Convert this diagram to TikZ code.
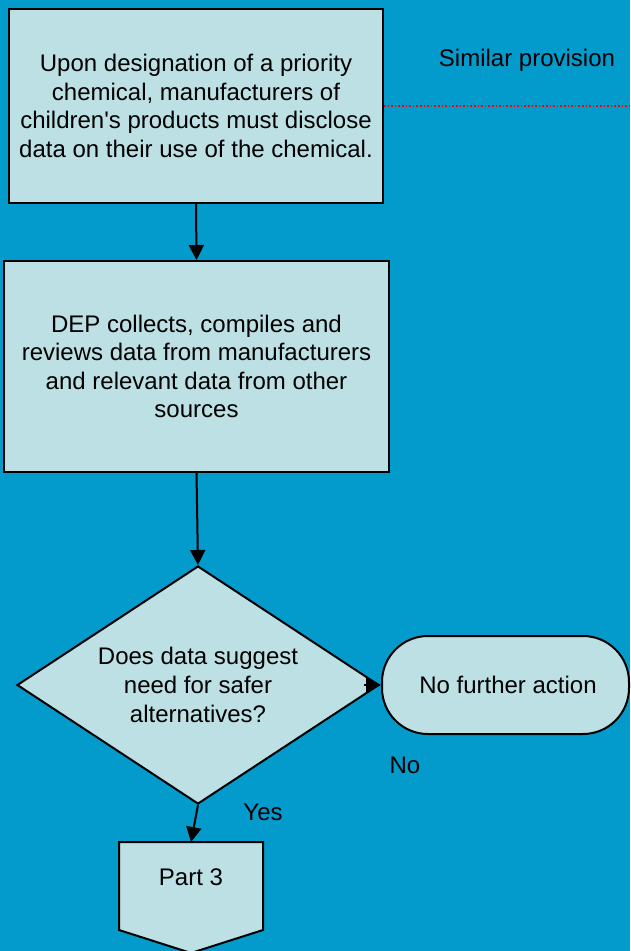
\documentclass[tikz,border=0pt]{standalone}
\usepackage{fontspec}
\setmainfont{Liberation Sans}[Ligatures=TeXOff]
\usetikzlibrary{shapes.geometric,arrows.meta}
\definecolor{bgblue}{RGB}{3,154,204}
\definecolor{boxfill}{RGB}{188,224,228}
\tikzset{
  procbox/.style={draw=black, line width=2pt, fill=boxfill, align=center, inner sep=0pt},
  flowarrow/.style={line width=2pt, -{Triangle[length=15pt,width=15pt]}},
  lbl/.style={inner sep=0pt, text=black},
  dotline/.style={red, dotted, line width=1.6pt}
}
\begin{document}
\begin{tikzpicture}[x=1pt,y=-1pt, font=\fontsize{24}{28.6}\selectfont]
\useasboundingbox (0,0) rectangle (630,951);
\fill[bgblue] (0,0) rectangle (630,951);
% box 1
\node[procbox, minimum width=374pt, minimum height=194pt] (b1) at (196,106)
  {Upon designation of a priority\\chemical, manufacturers of\\children's products must disclose\\data on their use of the chemical.};
% box 2
\node[procbox, minimum width=385pt, minimum height=211pt] (b2) at (196.5,366.5)
  {DEP collects, compiles and\\reviews data from manufacturers\\and relevant data from other\\sources};
% diamond
\node[procbox, diamond, aspect=1.52, minimum width=362pt, minimum height=238pt] (dia) at (198,685)
  {Does data suggest\\need for safer\\alternatives?};
% terminator
\node[procbox, rounded corners=46pt, minimum width=247pt, minimum height=98pt] (term) at (505.5,685)
  {\hspace{5pt}No further action};
% Part 3 off-page connector
\path[procbox] (119,842) -- (263,842) -- (263,930) -- (191,953) -- (119,930) -- cycle;
\coordinate (p3top) at (191,842);
\node[lbl] (p3) at (191,877) {Part 3};
% labels
\node[lbl] (sim) at (527,60) {Similar provision};
\node[lbl] (no) at (405,765) {No};
\node[lbl] (yes) at (263,812) {Yes};
% connectors
\coordinate (rEnd) at (630,106);
\draw[dotline] (b1.east) -- (rEnd);
\draw[flowarrow] (b1.south) -- (b2.north);
\draw[flowarrow] (b2.south) -- (dia.north);
\draw[flowarrow] ([xshift=-16pt]dia.east) -- (term.west);
\draw[flowarrow] (dia.south) -- (p3top);
\end{tikzpicture}
\end{document}
